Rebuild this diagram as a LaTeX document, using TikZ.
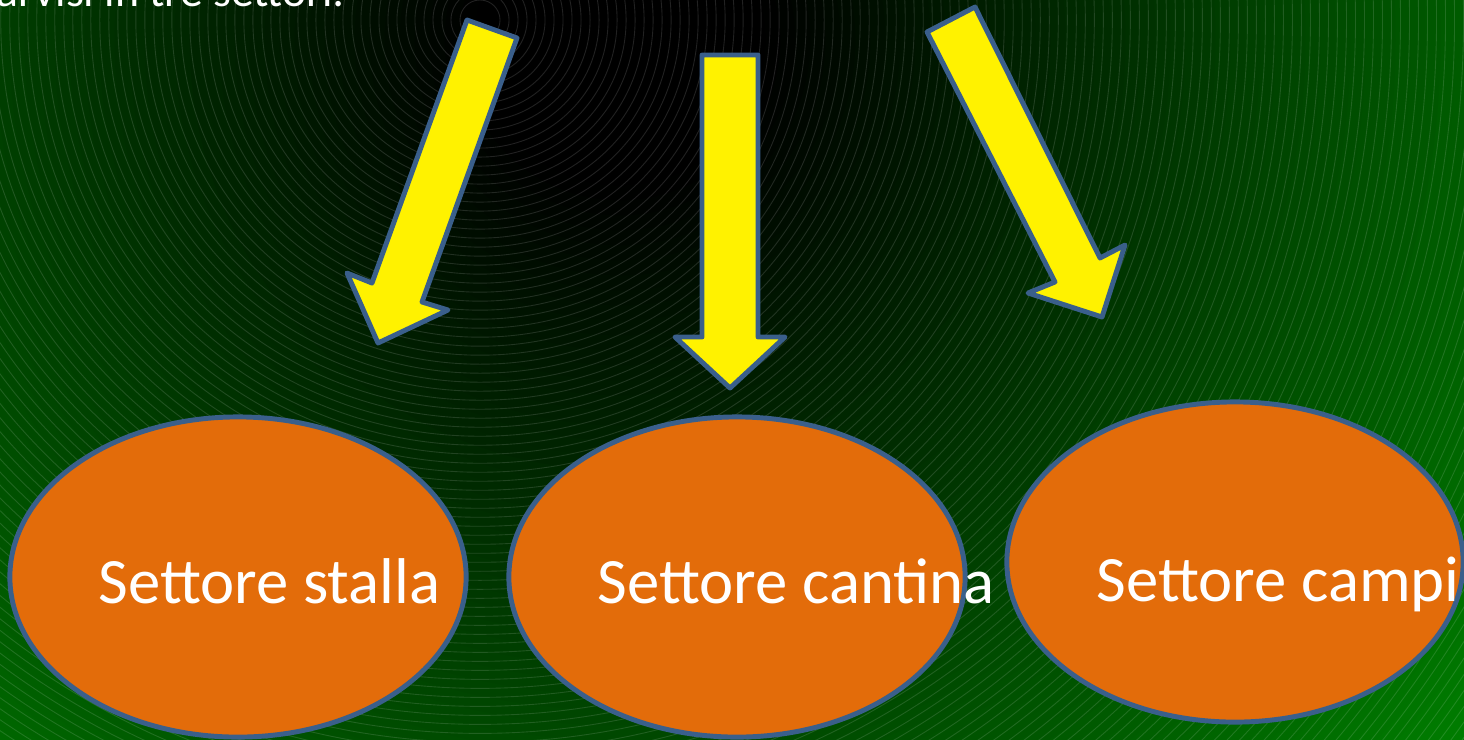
\documentclass[tikz,border=0pt]{standalone}
\usepackage{fontspec}
\setmainfont{Carlito}
\usetikzlibrary{shapes.geometric}
\definecolor{arrowblue}{HTML}{3A5F8B}
\definecolor{sectororange}{HTML}{E36C0A}
\definecolor{bggreen}{HTML}{007C00}

\begin{document}
\begin{tikzpicture}[x=0.01cm, y=-0.01cm,
    sector/.style={ellipse, draw=arrowblue, line width=1.4pt, fill=sectororange,
      minimum width=4.56cm, minimum height=3.2cm, inner sep=0pt},
    sectortext/.style={anchor=base west, inner sep=0pt, text=white,
      font=\fontsize{18.4}{22}\selectfont},
    blockarrow/.style={draw=arrowblue, line width=1.4pt, fill=yellow, line join=round}]
  \useasboundingbox (0,0) rectangle (1464,739);
  \clip (0,0) rectangle (1464,739);
  % background, dark in the middle of the top edge
  \foreach \r in {16,15.85,...,0.1}{
    \pgfmathsetmacro\p{max(0,min(100,100*(\r-1.5)/9.5))}
    \fill[bggreen!\p!black] (620,40) circle[radius=\r cm];
  }
  \foreach \r in {0.2,0.29,...,15.5}
    \draw[white, opacity=0.13, line width=0.25pt] (480,20) circle[radius=\r cm];
  % cut title line
  \node[anchor=base west, inner sep=0pt, text=white, font=\fontsize{13}{15}\selectfont]
    (intro) at (-4,6) {arvisi in tre settori:};
  % arrows
  \draw[blockarrow] (467,20) -- (517,38) -- (422,302) -- (448,310) -- (378,343)
    -- (347,273) -- (372,283) -- cycle;
  \draw[blockarrow] (702,55) -- (758,55) -- (758,337) -- (785,337) -- (730,388)
    -- (675,337) -- (702,337) -- cycle;
  \draw[blockarrow] (927,32) -- (975,7) -- (1100,258) -- (1125,245) -- (1102,317)
    -- (1028,293) -- (1055,282) -- cycle;
  % sectors
  \node[sector] (stalla) at (238,577) {};
  \node[sector] (cantina) at (737,577) {};
  \node[sector] (campi) at (1235,562) {};
  \node[sectortext] (Tstalla) at (98,603) {Settore stalla};
  \node[sectortext] (Tcantina) at (597,603) {Settore cantina};
  \node[sectortext] (Tcampi) at (1096,601) {Settore campi};
\end{tikzpicture}
\end{document}
